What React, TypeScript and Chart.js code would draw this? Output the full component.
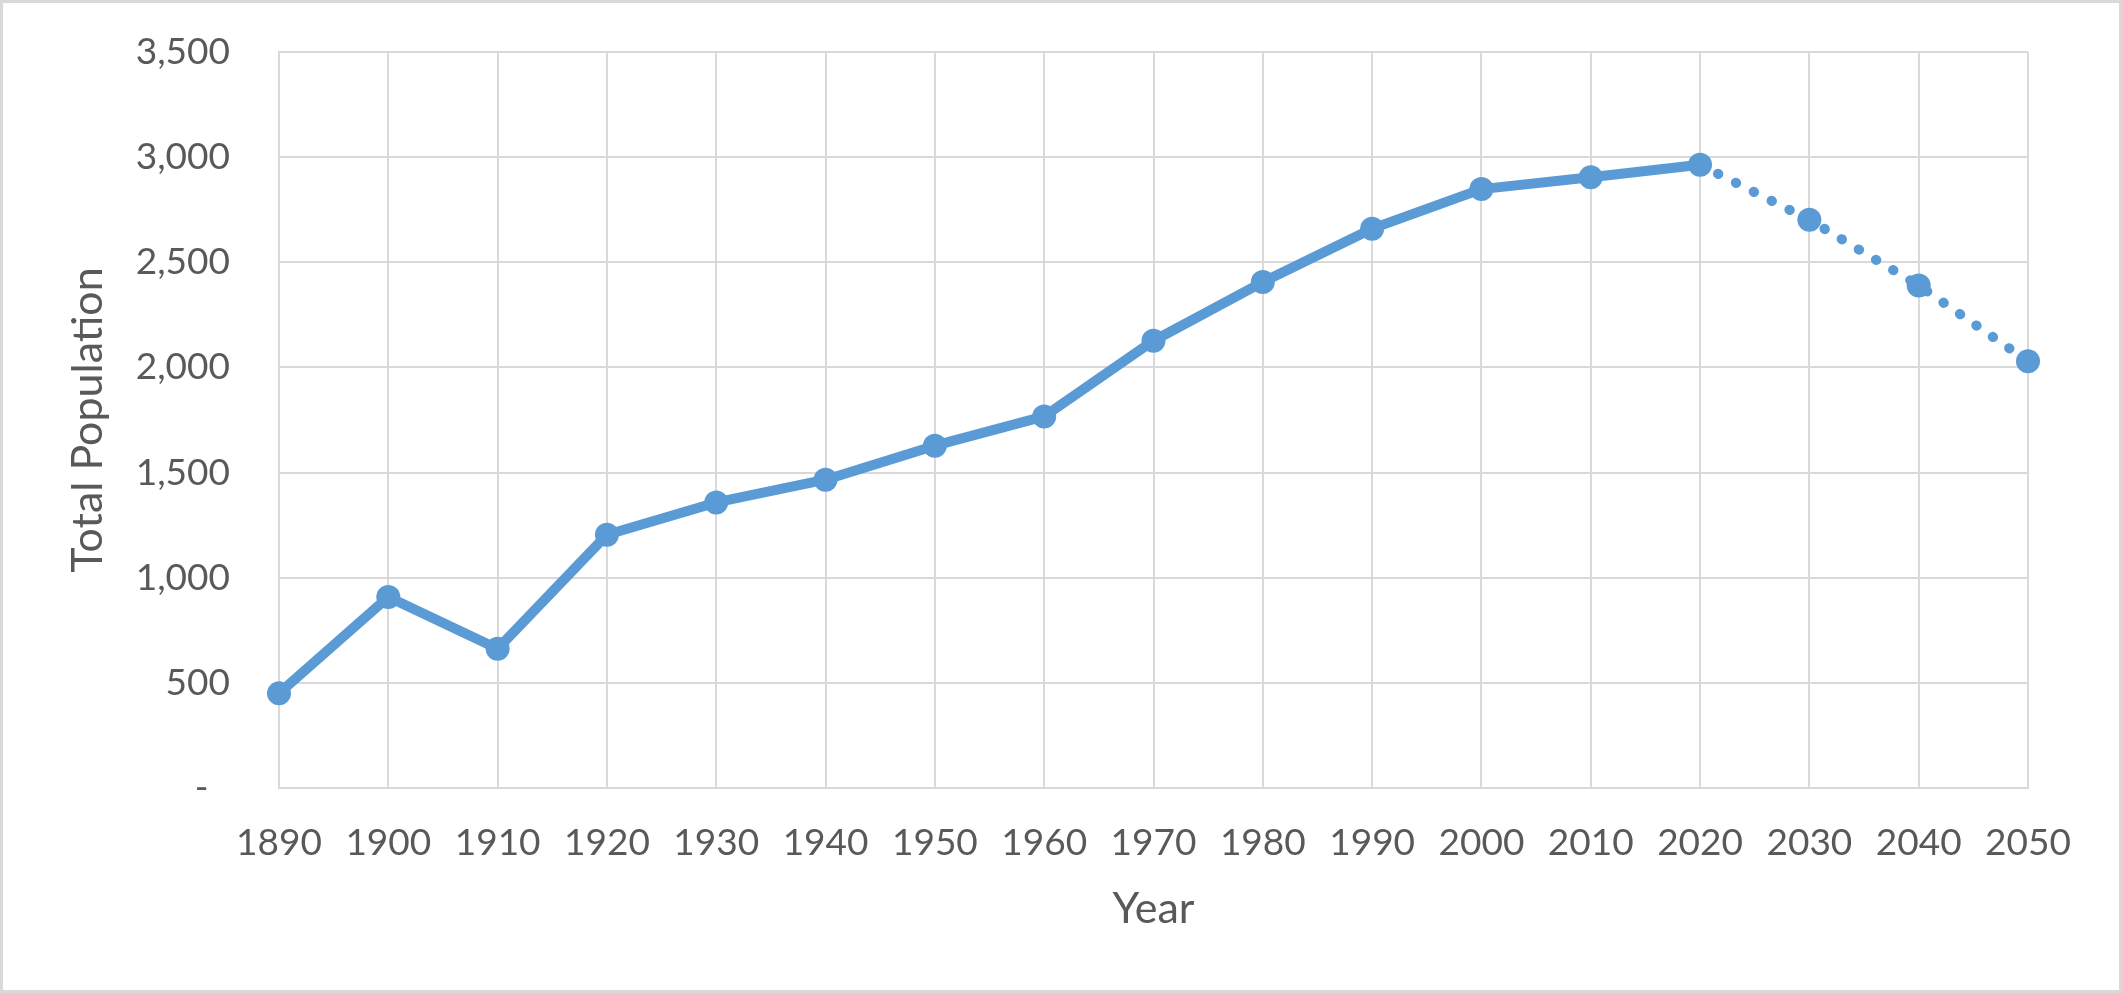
import React, { useEffect, useRef } from 'react';
import { Chart, registerables } from 'chart.js';

Chart.register(...registerables);

// ---- Data ----
const years: string[] = [
  '1890', '1900', '1910', '1920', '1930', '1940', '1950', '1960', '1970',
  '1980', '1990', '2000', '2010', '2020', '2030', '2040', '2050',
];
const population: number[] = [
  450, 908, 662, 1204, 1358, 1466, 1628, 1767, 2127,
  2406, 2660, 2848, 2904, 2964, 2702, 2390, 2029,
];
// index of the last observed value; segments after it are projections (dotted)
const lastObservedIndex = 13;
const yMin = 0;
const yMax = 3500;
const yStep = 500;
const xTitle = 'Year';
const yTitle = 'Total Population';

const BLUE = '#5B9BD5';
const GRID = '#D9D9D9';
const TEXT = '#595959';
const FONT = 'Lato, "Open Sans", "Liberation Sans", sans-serif';

const W = 2122;
const H = 993;

export default function App() {
  const canvasRef = useRef<HTMLCanvasElement | null>(null);

  useEffect(() => {
    document.body.style.margin = '0';
    const canvas = canvasRef.current;
    if (!canvas) return;
    const chart = new Chart(canvas, {
      type: 'line',
      data: {
        labels: years,
        datasets: [
          {
            data: population,
            borderColor: BLUE,
            backgroundColor: BLUE,
            borderWidth: 10,
            borderCapStyle: 'round',
            borderJoinStyle: 'round',
            tension: 0,
            pointRadius: 12,
            pointHoverRadius: 12,
            pointBorderWidth: 0,
            pointBackgroundColor: BLUE,
            pointBorderColor: BLUE,
            segment: {
              borderDash: (ctx: any) =>
                ctx.p0DataIndex >= lastObservedIndex ? [0.5, 19.5] : undefined,
            },
          } as any,
        ],
      },
      options: {
        animation: false,
        responsive: false,
        devicePixelRatio: 1,
        layout: { padding: { top: 52, right: 94, bottom: 0, left: 0 } },
        plugins: {
          legend: { display: false },
          tooltip: { enabled: false },
        },
        scales: {
          x: {
            grid: { color: GRID, lineWidth: 2, drawTicks: false },
            border: { color: GRID, width: 2 },
            ticks: {
              color: TEXT,
              font: { family: FONT, size: 37 },
              padding: 33,
              maxRotation: 0,
              autoSkip: false,
            },
            title: {
              display: true,
              text: xTitle,
              color: TEXT,
              font: { family: FONT, size: 43 },
              padding: { top: 0, bottom: 58 },
            },
            afterFit: (s: any) => {
              s.height = H - 788;
            },
          },
          y: {
            min: yMin,
            max: yMax,
            grid: { color: GRID, lineWidth: 2, drawTicks: false },
            border: { color: GRID, width: 2 },
            ticks: {
              stepSize: yStep,
              color: TEXT,
              font: { family: FONT, size: 37 },
              padding: 49,
              callback: (v: any) =>
                Number(v) === 0 ? '-\u2007' : Number(v).toLocaleString('en-US'),
            },
            title: {
              display: true,
              text: yTitle,
              color: TEXT,
              font: { family: FONT, size: 43 },
              padding: { top: 62, bottom: 0 },
            },
            afterFit: (s: any) => {
              s.width = 279;
              s.paddingTop = 0;
              s.paddingBottom = 0;
            },
          },
        },
      },
    });
    return () => chart.destroy();
  }, []);

  return (
    <div
      style={{
        position: 'fixed',
        left: 0,
        top: 0,
        width: W,
        height: H,
        background: '#fff',
      }}
    >
      <canvas ref={canvasRef} width={W} height={H} style={{ display: 'block' }} />
      <div
        style={{
          position: 'absolute',
          left: 0,
          top: 0,
          width: W,
          height: H,
          boxSizing: 'border-box',
          border: `3px solid ${GRID}`,
          pointerEvents: 'none',
        }}
      />
    </div>
  );
}
